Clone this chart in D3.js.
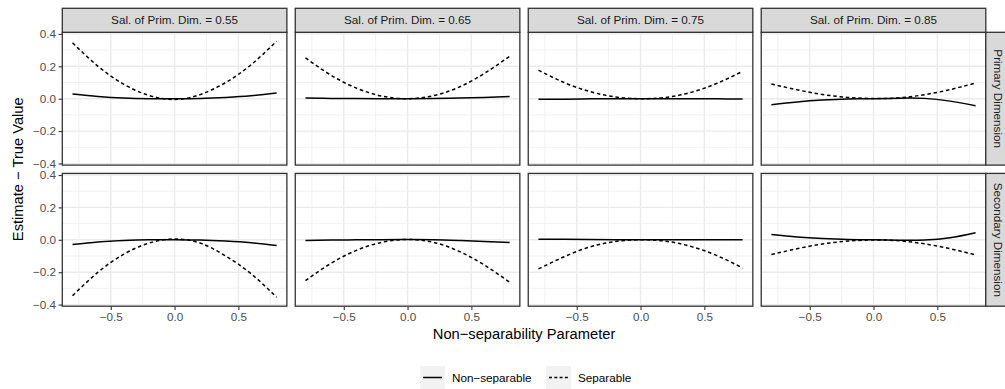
<!DOCTYPE html>
<html>
<head>
<meta charset="utf-8">
<script src="https://cdn.jsdelivr.net/npm/d3@7"></script>
<style>
  body { margin: 0; background: #fff; }
  text { font-family: "Liberation Sans", Arial, sans-serif; }
</style>
</head>
<body>
<div class="chart"></div>
<script>
// facets
let salience = [0.55, 0.65, 0.75, 0.85];
let dimensions = ["Primary Dimension", "Secondary Dimension"];
let xVals = [-0.8, -0.6, -0.4, -0.2, 0, 0.2, 0.4, 0.6, 0.8];

// one row per salience level, values at xVals
let nonSepPrimary = [
  [0.029, 0.014, 0.004, 0.0, 0.0, 0.002, 0.008, 0.018, 0.035],
  [0.004, 0.002, 0.001, 0.0, 0.0, 0.001, 0.004, 0.008, 0.014],
  [-0.004, -0.003, -0.001, 0.0, 0.0, 0.0, -0.001, -0.001, -0.002],
  [-0.037, -0.02, -0.008, -0.002, 0.0, 0.003, 0.002, -0.015, -0.043]
];
let sepPrimary = [
  [0.345, 0.2, 0.09, 0.02, -0.005, 0.025, 0.1, 0.21, 0.355],
  [0.252, 0.145, 0.065, 0.016, 0.0, 0.018, 0.07, 0.155, 0.262],
  [0.176, 0.1, 0.045, 0.011, 0.0, 0.008, 0.04, 0.095, 0.169],
  [0.091, 0.055, 0.026, 0.008, 0.001, 0.005, 0.025, 0.056, 0.097]
];
let nonSepSecondary = [
  [-0.029, -0.013, -0.004, 0.0, 0.0, -0.002, -0.008, -0.018, -0.035],
  [-0.004, -0.002, 0.0, 0.001, 0.002, 0.001, -0.004, -0.01, -0.016],
  [0.004, 0.003, 0.002, 0.001, 0.0, 0.0, 0.0, 0.0, 0.0],
  [0.033, 0.018, 0.008, 0.002, 0.0, -0.003, -0.002, 0.012, 0.043]
];
let sepSecondary = [
  [-0.345, -0.2, -0.09, -0.02, 0.005, -0.02, -0.1, -0.21, -0.355],
  [-0.252, -0.145, -0.065, -0.015, 0.002, -0.015, -0.07, -0.155, -0.262],
  [-0.18, -0.105, -0.045, -0.011, 0.0, -0.009, -0.042, -0.098, -0.174],
  [-0.091, -0.055, -0.026, -0.008, -0.001, -0.006, -0.025, -0.055, -0.093]
];

let xTicks = [-0.5, 0, 0.5];
let xMinor = [-0.75, -0.25, 0.25, 0.75];
let yTicks = [-0.4, -0.2, 0, 0.2, 0.4];
let yMinor = [-0.3, -0.1, 0.1, 0.3];
let seriesNames = ["Non\u2212separable", "Separable"];

let width = 1005, height = 389;
let left = 62.3, right = 985.8, gap = 8.4;
let pw = (right - left - 3 * gap) / 4;
let ph = 132.8;
let rowTop = [32.3, 173.4];
let stripH = 24;
let fmt = d3.format(".1f");

const svg = d3.select(".chart")
  .append("svg")
  .attr("width", width)
  .attr("height", height);

let x = d3.scaleLinear().domain([-0.88, 0.88]).range([0, pw]);
let y = d3.scaleLinear().domain([-0.41, 0.41]).range([ph, 0]);

let line = d3.line()
  .x((d) => x(d[0]))
  .y((d) => y(d[1]))
  .curve(d3.curveNatural);

let rows = [[nonSepPrimary, sepPrimary], [nonSepSecondary, sepSecondary]];

dimensions.forEach(function (dim, r) {
  salience.forEach(function (s, c) {
    let g = svg.append("g")
      .attr("transform", "translate(" + (left + c * (pw + gap)) + "," + rowTop[r] + ")");

    g.append("rect").attr("width", pw).attr("height", ph).attr("fill", "#fff");

    // grid
    g.selectAll(".xmin").data(xMinor).enter().append("line")
      .attr("x1", (d) => x(d)).attr("x2", (d) => x(d))
      .attr("y1", 0).attr("y2", ph)
      .attr("stroke", "#ebebeb").attr("stroke-width", 0.7);
    g.selectAll(".ymin").data(yMinor).enter().append("line")
      .attr("y1", (d) => y(d)).attr("y2", (d) => y(d))
      .attr("x1", 0).attr("x2", pw)
      .attr("stroke", "#ebebeb").attr("stroke-width", 0.7);
    g.selectAll(".xmaj").data(xTicks).enter().append("line")
      .attr("x1", (d) => x(d)).attr("x2", (d) => x(d))
      .attr("y1", 0).attr("y2", ph)
      .attr("stroke", "#ebebeb").attr("stroke-width", 1.4);
    g.selectAll(".ymaj").data(yTicks).enter().append("line")
      .attr("y1", (d) => y(d)).attr("y2", (d) => y(d))
      .attr("x1", 0).attr("x2", pw)
      .attr("stroke", "#ebebeb").attr("stroke-width", 1.4);

    // curves
    rows[r].forEach(function (series, k) {
      let pts = xVals.map((xv, i) => [xv, series[c][i]]);
      g.append("path")
        .attr("d", line(pts))
        .attr("fill", "none")
        .attr("stroke", "#000")
        .attr("stroke-width", 1.5)
        .attr("stroke-dasharray", k == 1 ? "3.5,2.8" : null);
    });

    g.append("rect").attr("width", pw).attr("height", ph)
      .attr("fill", "none").attr("stroke", "#333").attr("stroke-width", 1.3);

    // top strips
    if (r == 0) {
      g.append("rect").attr("y", -stripH).attr("width", pw).attr("height", stripH)
        .attr("fill", "#d9d9d9").attr("stroke", "#333").attr("stroke-width", 1.3);
      g.append("text").attr("x", pw / 2).attr("y", -stripH / 2 + 4)
        .attr("text-anchor", "middle").attr("font-size", 11.7).attr("fill", "#1a1a1a")
        .text("Sal. of Prim. Dim. = " + s);
    }
    // right strips
    if (c == 3) {
      g.append("rect").attr("x", pw).attr("width", stripH).attr("height", ph)
        .attr("fill", "#d9d9d9").attr("stroke", "#333").attr("stroke-width", 1.3);
      g.append("text")
        .attr("transform", "translate(" + (pw + stripH / 2 - 4) + "," + (ph / 2) + ") rotate(90)")
        .attr("text-anchor", "middle").attr("font-size", 11.7).attr("fill", "#1a1a1a")
        .text(dim);
    }
    // y axis
    if (c == 0) {
      let ya = g.append("g").call(d3.axisLeft(y).tickValues(yTicks).tickFormat(fmt).tickSize(3.7).tickPadding(2.5));
      ya.select(".domain").remove();
      ya.selectAll("line").attr("stroke", "#333").attr("stroke-width", 1.1);
      ya.selectAll("text").attr("font-size", 11.7).attr("fill", "#4d4d4d")
        .attr("font-family", "Liberation Sans, Arial, sans-serif");
    }
    // x axis
    if (r == 1) {
      let xa = g.append("g").attr("transform", "translate(0," + ph + ")")
        .call(d3.axisBottom(x).tickValues(xTicks).tickFormat(fmt).tickSize(3.7).tickPadding(2.5));
      xa.select(".domain").remove();
      xa.selectAll("line").attr("stroke", "#333").attr("stroke-width", 1.1);
      xa.selectAll("text").attr("font-size", 11.7).attr("fill", "#4d4d4d")
        .attr("font-family", "Liberation Sans, Arial, sans-serif");
    }
  });
});

// axis titles
svg.append("text")
  .attr("x", (left + right) / 2).attr("y", 338.5)
  .attr("text-anchor", "middle").attr("font-size", 14.7).attr("fill", "#000")
  .text("Non\u2212separability Parameter");
svg.append("text")
  .attr("transform", "translate(23," + (rowTop[0] + (rowTop[1] + ph - rowTop[0]) / 2) + ") rotate(-90)")
  .attr("text-anchor", "middle").attr("font-size", 14.7).attr("fill", "#000")
  .text("Estimate \u2212 True Value");

// legend
let legX = [420, 546];
let legend = svg.selectAll(".leg").data(seriesNames).enter().append("g")
  .attr("transform", (d, i) => "translate(" + legX[i] + ",366)");
legend.append("rect").attr("width", 25).attr("height", 23).attr("fill", "#f2f2f2");
legend.append("line")
  .attr("x1", 3).attr("x2", 22).attr("y1", 11.5).attr("y2", 11.5)
  .attr("stroke", "#000").attr("stroke-width", 1.5)
  .attr("stroke-dasharray", (d, i) => i == 1 ? "3,2.3" : null);
legend.append("text").attr("x", 32).attr("y", 15.7)
  .attr("font-size", 11.7).attr("fill", "#000")
  .text((d) => d);
</script>
</body>
</html>
